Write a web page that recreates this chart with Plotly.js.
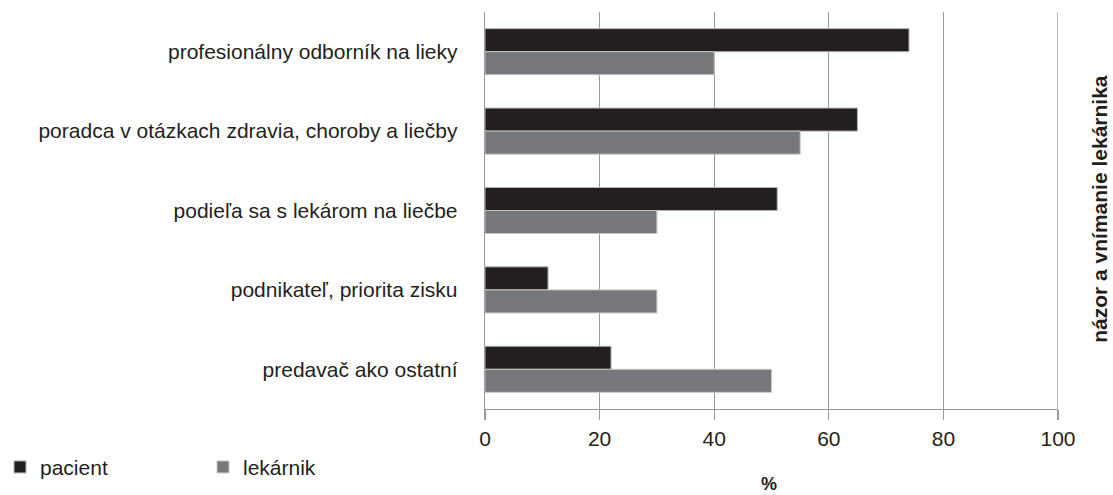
<!DOCTYPE html>
<html>
<head>
<meta charset="utf-8">
<script src="https://cdn.plot.ly/plotly-3.0.1.min.js"></script>
<style>html,body{margin:0;padding:0;background:#fff;}#chart{width:1113px;height:495px;}</style>
</head>
<body>
<div id="chart"></div>
<script>
const categories = [
  "profesionálny odborník na lieky",
  "poradca v otázkach zdravia, choroby a liečby",
  "podieľa sa s lekárom na liečbe",
  "podnikateľ, priorita zisku",
  "predavač ako ostatní"
];
const pacientValues = [74, 65, 51, 11, 22];
const lekarnikValues = [40, 55, 30, 30, 50];
const seriesNames = ["pacient", "lekárnik"];
const xTicks = [0, 20, 40, 60, 80, 100];

const font = "Liberation Sans, Arial, sans-serif";
const traces = [
  {type: "bar", orientation: "h", name: seriesNames[0], y: categories, x: pacientValues,
   marker: {color: "#231f20", line: {color: "#b5b5b5", width: 1}}},
  {type: "bar", orientation: "h", name: seriesNames[1], y: categories, x: lekarnikValues,
   marker: {color: "#76777a", line: {color: "#c8c8c8", width: 1}}}
];
const layout = {
  width: 1113, height: 495,
  margin: {l: 485, r: 55, t: 12, b: 86},
  paper_bgcolor: "#fff", plot_bgcolor: "#fff",
  font: {family: font, size: 21, color: "#231f20"},
  barmode: "group", bargap: 0.42, bargroupgap: 0,
  xaxis: {
    range: [0, 100], tickvals: xTicks, ticktext: xTicks.map(String),
    showgrid: true, gridcolor: "#9a9a9a", gridwidth: 1.3,
    showline: true, linecolor: "#9a9a9a", linewidth: 1.3,
    ticks: "outside", ticklen: 10, tickcolor: "#9a9a9a", tickwidth: 1.3,
    zeroline: false, fixedrange: true
  },
  yaxis: {
    autorange: "reversed", showline: true, linecolor: "#9a9a9a", linewidth: 1.3,
    ticks: "outside", ticklen: 22, tickcolor: "rgba(0,0,0,0)", showgrid: false, fixedrange: true
  },
  showlegend: true,
  legend: {orientation: "h", xref: "container", yref: "container", x: 0.0, y: 0.056,
           xanchor: "left", yanchor: "middle", entrywidth: 158, entrywidthmode: "pixels",
           font: {size: 21}, traceorder: "normal"},
  annotations: [{
    xref: "paper", yref: "paper", x: 1.072, y: 0.505, xanchor: "center", yanchor: "middle",
    text: "<b>názor a vnímanie lekárnika</b>", textangle: -90, showarrow: false,
    font: {size: 21, color: "#231f20"}
  }, {
    xref: "paper", yref: "paper", x: 0.495, y: -0.19, xanchor: "center", yanchor: "middle",
    text: "<b>%</b>", showarrow: false, font: {size: 18, color: "#231f20"}
  }],
  shapes: [{type: "line", xref: "x", yref: "paper", x0: 100, x1: 100, y0: 0, y1: 1,
            line: {color: "#9a9a9a", width: 1.3}}]
};
Plotly.newPlot("chart", traces, layout, {displayModeBar: false, staticPlot: true});
</script>
</body>
</html>
